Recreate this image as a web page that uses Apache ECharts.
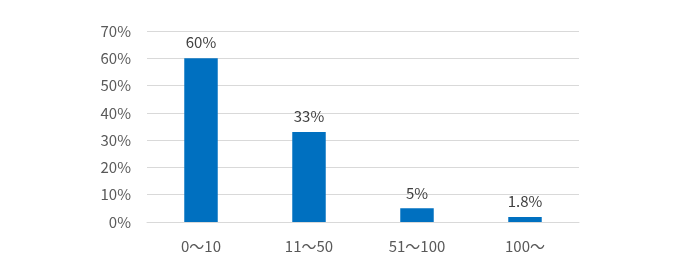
<!DOCTYPE html>
<html><head><meta charset="utf-8">
<script src="https://cdn.jsdelivr.net/npm/echarts@6/dist/echarts.min.js"></script>
<style>html,body{margin:0;padding:0;background:#fff}#c{width:680px;height:280px}</style>
</head><body><div id="c"></div>
<script>
const categories = ['0〜10', '11〜50', '51〜100', '100〜'];
const values = [60, 33, 5, 1.8];
const labels = ['60%', '33%', '5%', '1.8%'];
const yTicks = [0, 10, 20, 30, 40, 50, 60, 70];

const chart = echarts.init(document.getElementById('c'), null, {renderer: 'canvas'});
const font = '"Noto Sans CJK JP", "Noto Sans", sans-serif';
chart.setOption({
  animation: false,
  grid: {left: 147, right: 101, top: 31, bottom: 58},
  xAxis: {
    type: 'category', data: categories,
    axisLine: {lineStyle: {color: '#d9d9d9'}},
    axisTick: {show: false},
    axisLabel: {color: '#595959', fontSize: 15, fontFamily: font, margin: 17}
  },
  yAxis: {
    type: 'value', min: yTicks[0], max: yTicks[yTicks.length - 1], interval: 10,
    axisLine: {show: false}, axisTick: {show: false},
    splitLine: {lineStyle: {color: '#d9d9d9'}},
    axisLabel: {color: '#595959', fontSize: 15, fontFamily: font, margin: 16, formatter: v => v + '%'}
  },
  series: [{
    type: 'bar', data: values, barWidth: '31%',
    itemStyle: {color: '#0070C0'},
    label: {show: true, position: 'top', distance: 8, color: '#404040', fontSize: 15, fontFamily: font,
      formatter: p => labels[p.dataIndex]}
  }]
});
</script></body></html>
